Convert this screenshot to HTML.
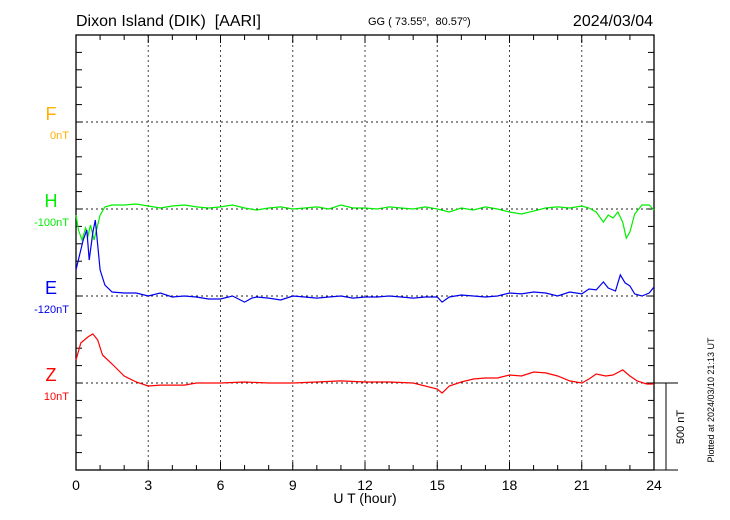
<!DOCTYPE html>
<html><head><meta charset="utf-8"><style>
body{margin:0;background:#fff}
svg{display:block;font-family:"Liberation Sans",sans-serif}
</style></head><body>
<svg id="chart" width="730" height="520" viewBox="0 0 730 520">
<text x="76" y="26" font-size="16" style="white-space:pre">Dixon Island (DIK)&#160; [AARI]</text>
<text x="368" y="25" font-size="11" style="white-space:pre">GG ( 73.55<tspan dy="-4" font-size="7">o</tspan><tspan dy="4">,&#160; 80.57</tspan><tspan dy="-4" font-size="7">o</tspan><tspan dy="4">)</tspan></text>
<text x="653" y="26" font-size="16" text-anchor="end">2024/03/04</text>
<g id="grid"></g>
<g id="axes"></g>
<g id="series"></g>
<text x="365" y="503" font-size="14" text-anchor="middle">U T (hour)</text>
<text transform="translate(684,427) rotate(-90)" font-size="11" text-anchor="middle">500 nT</text>
<text transform="translate(714,400) rotate(-90)" font-size="9" text-anchor="middle">Plotted at 2024/03/10 21:13 UT</text>
</svg>
<script>
const xTicks=[0,3,6,9,12,15,18,21,24];
const compNames=["F","H","E","Z"];
const compColors=["#ffb000","#00ee00","#0000ee","#ff0000"];
const compBase=["0nT","-100nT","-120nT","10nT"];
const hTimes=[0,0.1,0.25,0.4,0.5,0.6,0.75,0.9,1,1.2,1.5,2,2.5,3,3.5,4,4.5,5,5.5,6,6.5,7,7.5,8,8.5,9,9.5,10,10.5,11,11.5,12,12.5,13,13.5,14,14.5,15,15.5,16,16.5,17,17.5,18,18.5,19,19.5,20,20.5,21,21.3,21.6,21.9,22.1,22.3,22.5,22.7,22.85,23,23.2,23.5,23.8,24];
const hVals=[-35,-120,-178,-109,-155,-92,-178,-92,-35,12,23,23,29,17,6,17,23,12,6,12,23,6,-6,6,12,0,6,12,0,23,6,6,0,12,6,0,12,0,-17,6,-6,12,0,-17,-29,-12,6,12,6,17,6,-17,-75,-35,-52,-17,-75,-167,-132,-29,23,23,-6];
const eTimes=[0,0.15,0.3,0.45,0.55,0.7,0.8,0.9,1,1.2,1.5,2,2.5,3,3.5,4,4.5,5,5.5,6,6.5,7,7.3,7.5,8,8.5,9,9.5,10,10.5,11,11.5,12,12.5,13,13.5,14,14.5,15,15.2,15.5,16,16.5,17,17.5,18,18.5,19,19.5,20,20.5,21,21.3,21.6,21.9,22.1,22.4,22.6,22.8,23,23.2,23.5,23.8,24];
const eVals=[150,236,322,380,207,368,437,293,150,63,23,17,17,0,17,-6,0,-6,-17,-17,0,-35,-12,-6,-12,-23,0,-6,-12,-6,0,-12,-6,-6,0,-6,-12,-6,-6,-35,-6,6,0,-6,0,17,12,23,17,0,23,12,40,35,81,46,29,121,75,58,12,0,17,52];
const zTimes=[0,0.2,0.5,0.7,0.9,1.1,1.5,2,2.5,3,3.5,4,4.5,5,6,7,8,9,10,11,12,13,14,15,15.2,15.5,16,16.5,17,17.5,18,18.5,19,19.5,20,20.5,21,21.3,21.6,22,22.3,22.7,23,23.3,23.7,24];
const zVals=[132,230,265,282,247,161,109,40,6,-17,-12,-12,-12,0,0,6,0,0,6,12,6,6,0,-35,-58,-17,6,23,29,29,46,40,63,58,40,12,0,23,52,40,46,75,40,12,-6,-6];

const X0=76,X1=654,Y0=35,Y1=470,NT_PER_PX=500/87;
const baseY=[122,209,296,383];
const xs=h=>X0+(X1-X0)*h/24;
const ys=(i,v)=>baseY[i]-v/NT_PER_PX;
const NS="http://www.w3.org/2000/svg";
function mk(parent,tag,attrs){const e=document.createElementNS(NS,tag);for(const k in attrs)e.setAttribute(k,attrs[k]);parent.appendChild(e);return e;}
const grid=document.getElementById('grid'),axes=document.getElementById('axes'),series=document.getElementById('series');
for(const t of xTicks.slice(1,-1)){
  const l=mk(grid,'line',{x1:xs(t),x2:xs(t),y1:Y0,y2:Y1,stroke:'#444','stroke-dasharray':'2,3'});
  
  
}
for(const y of baseY){
  const l=mk(grid,'line',{x1:X0,x2:X1,y1:y,y2:y,stroke:'#222','stroke-dasharray':'2,3'});
  
  
}
const box=mk(axes,'rect',{x:X0,y:Y0,width:X1-X0,height:Y1-Y0,fill:'none',stroke:'#000','stroke-width':1.3});


for(let h=1;h<24;h++){
  const len=(h%3===0)?8:5;
  mk(axes,'line',{x1:xs(h),x2:xs(h),y1:Y1,y2:Y1-len,stroke:'#000'});
  mk(axes,'line',{x1:xs(h),x2:xs(h),y1:Y0,y2:Y0+len,stroke:'#000'});
}
for(let k=1;k<25;k++){
  const y=Y0+k*(Y1-Y0)/25;
  mk(axes,'line',{x1:X0,x2:X0+6,y1:y,y2:y,stroke:'#000'});
  mk(axes,'line',{x1:X1,x2:X1-6,y1:y,y2:y,stroke:'#000'});
}
for(const t of xTicks){
  const tx=mk(axes,'text',{x:xs(t),y:490,'font-size':14,'text-anchor':'middle'});
  tx.textContent=t;
  
  
}
compNames.forEach((n,i)=>{
  const a=mk(axes,'text',{x:51,y:baseY[i]-2,'font-size':18,'text-anchor':'middle',fill:compColors[i]});
  a.textContent=n;
  
  
  const b=mk(axes,'text',{x:69,y:baseY[i]+17,'font-size':11,'text-anchor':'end',fill:compColors[i]});
  b.textContent=compBase[i];
  
  
});
const sb=mk(axes,'path',{d:`M${X1} 383 H678 M${X1} 470 H678 M666 383 V470`,stroke:'#000',fill:'none'});


function draw(ts,vs,i,name){
  const d=ts.map((t,k)=>(k?'L':'M')+xs(t).toFixed(1)+' '+ys(i,vs[k]).toFixed(1)).join(' ');
  const p=mk(series,'path',{d,fill:'none',stroke:compColors[i],'stroke-width':1.2});
  
  
}
draw(hTimes,hVals,1,'h-series-line');
draw(eTimes,eVals,2,'e-series-line');
draw(zTimes,zVals,3,'z-series-line');
</script>
</body></html>
